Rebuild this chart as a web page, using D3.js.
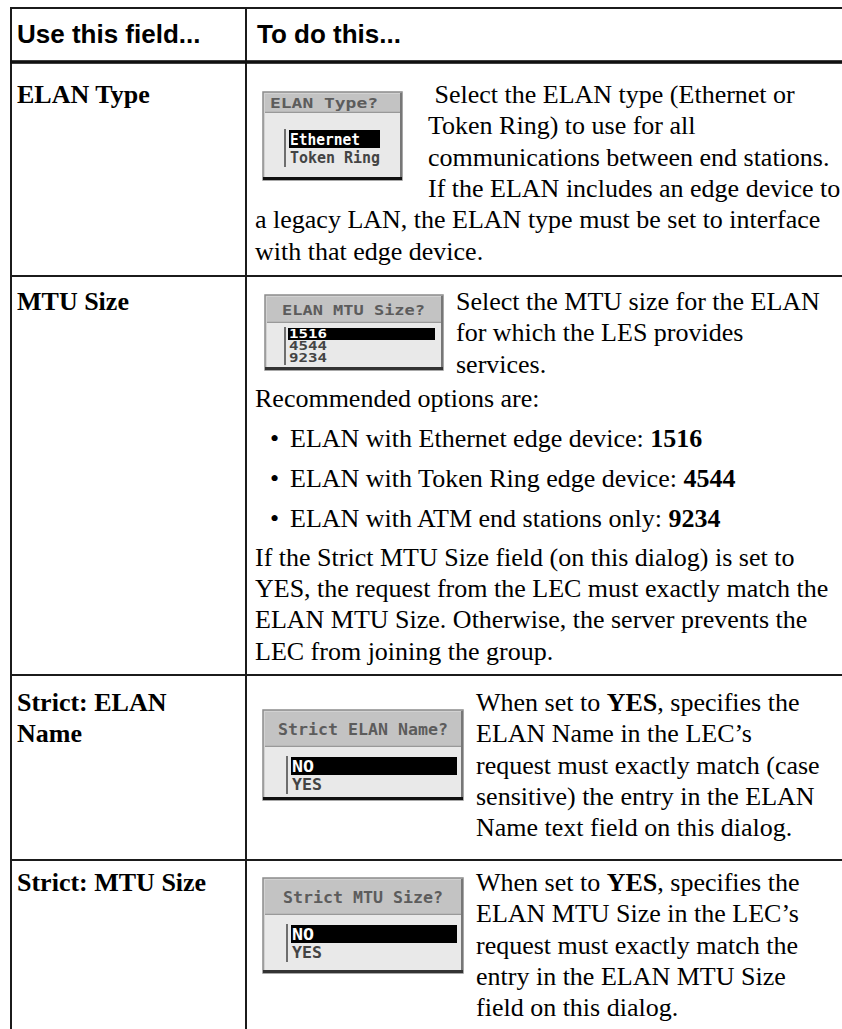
<!DOCTYPE html>
<html><head><meta charset="utf-8">
<script src="https://cdn.jsdelivr.net/npm/d3@7"></script>
<style>html,body{margin:0;padding:0;background:#fff;} svg{display:block}</style>
</head><body><svg id="c" width="842" height="1029"></svg>
<script>
// ---------- DATA ----------
const headers = ["Use this field...", "To do this..."];
const fieldLabels = [["ELAN Type"], ["MTU Size"], ["Strict: ELAN", "Name"], ["Strict: MTU Size"]];
const dialogTitles = ["ELAN Type?", "ELAN MTU Size?", "Strict ELAN Name?", "Strict MTU Size?"];
const dialogOptions = [["Ethernet", "Token Ring"], ["1516", "4544", "9234"], ["NO", "YES"], ["NO", "YES"]];
const selectedOption = [0, 0, 0, 0];
const rowText1 = [
  {kind: "side", parts: [[" Select the ELAN type (Ethernet or", false]]},
  {kind: "side", parts: [["Token Ring) to use for all", false]]},
  {kind: "side", parts: [["communications between end stations.", false]]},
  {kind: "side", parts: [["If the ELAN includes an edge device to", false]]},
  {kind: "full", parts: [["a legacy LAN, the ELAN type must be set to interface", false]]},
  {kind: "full", parts: [["with that edge device.", false]]}
];
const rowText2 = [
  {kind: "side", parts: [["Select the MTU size for the ELAN", false]]},
  {kind: "side", parts: [["for which the LES provides", false]]},
  {kind: "side", parts: [["services.", false]]},
  {kind: "lead", parts: [["Recommended options are:", false]]},
  {kind: "bullet", parts: [["ELAN with Ethernet edge device: ", false], ["1516", true]]},
  {kind: "bullet", parts: [["ELAN with Token Ring edge device: ", false], ["4544", true]]},
  {kind: "bullet", parts: [["ELAN with ATM end stations only: ", false], ["9234", true]]},
  {kind: "para", parts: [["If the Strict MTU Size field (on this dialog) is set to", false]]},
  {kind: "full", parts: [["YES, the request from the LEC must exactly match the", false]]},
  {kind: "full", parts: [["ELAN MTU Size. Otherwise, the server prevents the", false]]},
  {kind: "full", parts: [["LEC from joining the group.", false]]}
];
const rowText3 = [
  {kind: "side", parts: [["When set to ", false], ["YES", true], [", specifies the", false]]},
  {kind: "side", parts: [["ELAN Name in the LEC\u2019s", false]]},
  {kind: "side", parts: [["request must exactly match (case", false]]},
  {kind: "side", parts: [["sensitive) the entry in the ELAN", false]]},
  {kind: "side", parts: [["Name text field on this dialog.", false]]}
];
const rowText4 = [
  {kind: "side", parts: [["When set to ", false], ["YES", true], [", specifies the", false]]},
  {kind: "side", parts: [["ELAN MTU Size in the LEC\u2019s", false]]},
  {kind: "side", parts: [["request must exactly match the", false]]},
  {kind: "side", parts: [["entry in the ELAN MTU Size", false]]},
  {kind: "side", parts: [["field on this dialog.", false]]}
];
const rowTexts = [rowText1, rowText2, rowText3, rowText4];

// ---------- LAYOUT ----------
const W = 842, H = 1029;
const svg = d3.select("#c");
svg.append("rect").attr("width", W).attr("height", H).attr("fill", "#fff");

const tableLeft = 11, tableTop = 8, colDiv = 246, headerLine = 62;
const rowTops = [64, 276, 675, 860];
const rowFirst = [39, 34, 36, 31];
const lineH = 31.3;
const advance = {side: lineH, full: lineH, lead: 34, bullet: 40, para: 39};
const textX = 255, bulletX = 270, bulletTextX = 290;
const sideX = [428, 456, 476, 476];
const serif = "'Liberation Serif','Times New Roman',serif";
const sans = "'Liberation Sans',Arial,Helvetica,sans-serif";
const mono = "'DejaVu Sans Mono','Liberation Mono',monospace";
const fs = 26;

// dialog geometry per row
const dlg = [
  {x: 263, y: 92, w: 139, h: 88, tH: 21, tBase: 16, tFs: 14, tLen: 108, tX: 7, vb: 22, selX: 26, selW: 91, iTop: 38, iH: 18, iFs: 15, iLens: [70, 90], bottom: "#111"},
  {x: 265, y: 295, w: 178, h: 75, tH: 28, tBase: 20, tFs: 14, tLen: 143, tX: 17, vb: 20, selX: 23, selW: 147, iTop: 33, iH: 12, iFs: 12, iLens: [38, 38, 38], bottom: "#333"},
  {x: 263, y: 710, w: 200, h: 90, tH: 37, tBase: 25, tFs: 16, tLen: 170, tX: 15, vb: 24, selX: 28, selW: 166, iTop: 47, iH: 18, iFs: 15, iLens: [22, 30], bottom: "#111"},
  {x: 263, y: 878, w: 200, h: 95, tH: 37, tBase: 25, tFs: 16, tLen: 160, tX: 20, vb: 24, selX: 28, selW: 166, iTop: 47, iH: 18, iFs: 15, iLens: [22, 30], bottom: "#333"}
];

// ---------- TABLE LINES ----------
const lines = svg.append("g").attr("stroke", "#1b1b1b");
lines.append("line").attr("x1", tableLeft).attr("x2", W + 5).attr("y1", tableTop).attr("y2", tableTop).attr("stroke-width", 2);
lines.append("line").attr("x1", tableLeft).attr("x2", tableLeft).attr("y1", tableTop - 1).attr("y2", H + 5).attr("stroke-width", 2);
lines.append("line").attr("x1", colDiv).attr("x2", colDiv).attr("y1", tableTop).attr("y2", H + 5).attr("stroke-width", 2);
svg.append("rect").attr("x", tableLeft - 1).attr("y", headerLine - 1.8).attr("width", W).attr("height", 3.6).attr("fill", "#111");
lines.selectAll("line.row").data(rowTops.slice(1)).join("line").attr("class", "row")
  .attr("x1", tableLeft).attr("x2", W + 5).attr("y1", d => d).attr("y2", d => d).attr("stroke-width", 2);

// ---------- HEADER ----------
svg.selectAll("text.hdr").data(headers).join("text").attr("class", "hdr")
  .attr("x", (d, i) => i === 0 ? 17 : 257).attr("y", 43)
  .attr("font-family", sans).attr("font-weight", "bold").attr("font-size", 26).attr("fill", "#000")
  .text(d => d);

// ---------- FIELD LABELS ----------
fieldLabels.forEach((lab, r) => {
  lab.forEach((t, k) => {
    svg.append("text").attr("x", 17).attr("y", rowTops[r] + rowFirst[r] + k * lineH)
      .attr("font-family", serif).attr("font-weight", "bold").attr("font-size", fs).attr("fill", "#000").text(t);
  });
});

// ---------- BODY TEXT ----------
rowTexts.forEach((rows, r) => {
  let y = rowTops[r] + rowFirst[r];
  rows.forEach((ln, k) => {
    if (k > 0) y += advance[ln.kind];
    let x = ln.kind === "side" ? sideX[r] : (ln.kind === "bullet" ? bulletTextX : textX);
    if (ln.kind === "bullet") {
      svg.append("text").attr("x", bulletX).attr("y", y).attr("font-family", serif).attr("font-size", fs).text("\u2022");
    }
    const t = svg.append("text").attr("x", x).attr("y", y).attr("font-family", serif).attr("font-size", fs)
      .attr("fill", "#000").attr("xml:space", "preserve").style("white-space", "pre");
    t.selectAll("tspan").data(ln.parts).join("tspan")
      .attr("font-weight", d => d[1] ? "bold" : "normal").text(d => d[0]);
  });
});

// ---------- DIALOGS ----------
dialogTitles.forEach((title, r) => {
  const d = dlg[r];
  const g = svg.append("g").attr("transform", `translate(${d.x},${d.y})`);
  g.append("rect").attr("x", 0).attr("y", 0).attr("width", d.w).attr("height", d.h).attr("fill", "#d2d2d2").attr("stroke", "#8c8c8c").attr("stroke-width", 1.5);
  g.append("rect").attr("x", 2).attr("y", 2).attr("width", d.w - 4).attr("height", d.tH - 3).attr("fill", "#c3c3c3");
  g.append("line").attr("x1", 2).attr("x2", d.w - 2).attr("y1", d.tH - 0.5).attr("y2", d.tH - 0.5).attr("stroke", "#999").attr("stroke-width", 1.5);
  g.append("text").attr("x", d.tX).attr("y", d.tBase).attr("font-family", mono).attr("font-weight", "bold")
    .attr("font-size", d.tFs).attr("fill", "#5c5c5c").attr("textLength", d.tLen).attr("lengthAdjust", "spacingAndGlyphs").text(title);
  g.append("rect").attr("x", 2).attr("y", d.tH).attr("width", d.w - 4).attr("height", d.h - d.tH - 3).attr("fill", "#e9e9e9");
  g.append("line").attr("x1", d.w - 1).attr("x2", d.w - 1).attr("y1", 1).attr("y2", d.h).attr("stroke", "#777").attr("stroke-width", 2);
  g.append("rect").attr("x", 0).attr("y", d.h - 3).attr("width", d.w).attr("height", 3).attr("fill", d.bottom);
  const opts = dialogOptions[r];
  const yItem = d3.scaleLinear().domain([0, 1]).range([d.iTop, d.iTop + d.iH]);
  g.append("line").attr("x1", d.vb).attr("x2", d.vb).attr("y1", yItem(0) - 1).attr("y2", yItem(opts.length) + 1)
    .attr("stroke", "#6e6e6e").attr("stroke-width", 2);
  g.append("rect").attr("x", d.selX).attr("y", yItem(selectedOption[r])).attr("width", d.selW).attr("height", d.iH).attr("fill", "#000");
  g.selectAll("text.opt").data(opts).join("text").attr("class", "opt")
    .attr("x", d.selX + 1).attr("y", (o, i) => yItem(i) + d.iH * 0.82)
    .attr("font-family", mono).attr("font-weight", "bold").attr("font-size", d.iFs)
    .attr("fill", (o, i) => i === selectedOption[r] ? "#fff" : "#444")
    .attr("textLength", (o, i) => d.iLens[i]).attr("lengthAdjust", "spacingAndGlyphs").text(o => o);
});
</script></body></html>
